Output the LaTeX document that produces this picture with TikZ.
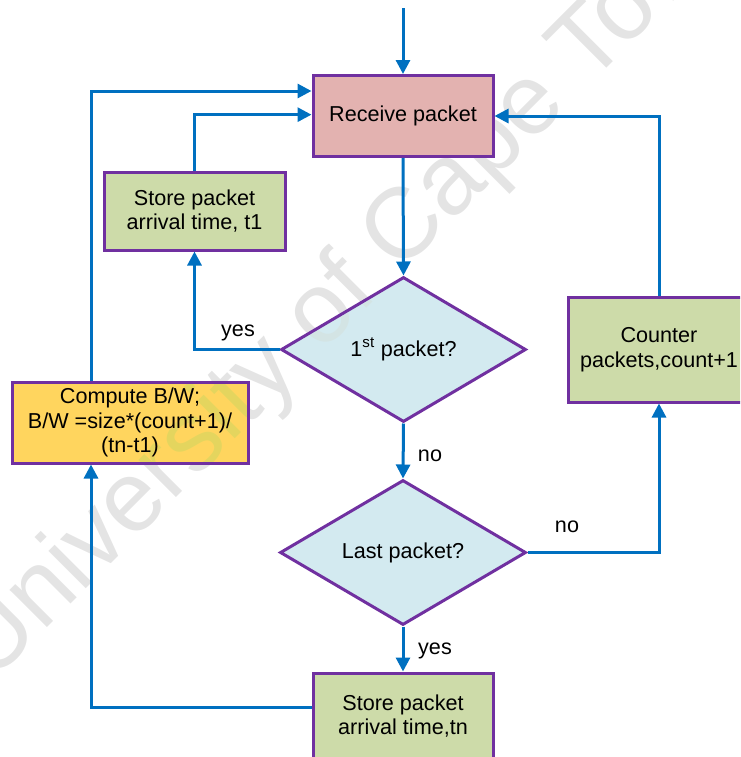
\documentclass[tikz,border=0pt]{standalone}
\usepackage{fontspec}
\setmainfont{Liberation Sans}
\usetikzlibrary{arrows.meta,shapes.geometric}
\definecolor{flowblue}{HTML}{0070C0}
\definecolor{boxpurple}{HTML}{7030A0}
\definecolor{pinkfill}{HTML}{E3B2B0}
\definecolor{greenfill}{HTML}{CDDBA9}
\definecolor{cyanfill}{HTML}{D3EAF0}
\definecolor{goldfill}{HTML}{FFD55E}
\definecolor{markgray}{HTML}{E4E4E4}
\begin{document}
\begin{tikzpicture}[x=0.75pt,y=-0.75pt,
  txt/.style={font=\fontsize{16.2}{18.6}\selectfont},
  procbox/.style={txt,draw=boxpurple,line width=2.25pt,align=center,inner sep=0pt},
  decision/.style={txt,diamond,draw=boxpurple,line width=2.25pt,fill=cyanfill,align=center,inner sep=0pt},
  flow/.style={draw=flowblue,line width=2.25pt,-{Triangle[length=10.5pt,width=10.5pt]}},
  lbl/.style={txt,inner sep=0pt}]
\useasboundingbox (0,0) rectangle (740,757);
\begin{scope}
\clip (0,0) rectangle (740,757);

% process boxes
\node[procbox,fill=pinkfill,minimum width=135pt,minimum height=60.75pt] (recv) at (403,116) {Receive packet};
\node[procbox,fill=greenfill,minimum width=135.75pt,minimum height=58.5pt] (st1) at (194.5,211) {Store packet\\arrival time, t1};
\node[procbox,fill=goldfill,minimum width=177pt,minimum height=60.75pt] (cmp) at (130,422.5) {\raisebox{-2pt}{\parbox{170pt}{\centering Compute B/W;\\B/W =size*(count+1)/\\(tn-t1)}}};
\node[procbox,fill=greenfill,minimum width=136.5pt,minimum height=78.75pt] (cnt) at (659,349.5) {Counter\\packets,count+1};
\node[procbox,fill=greenfill,minimum width=135pt,minimum height=64.5pt] (stn) at (403,716) {Store packet\\arrival time,tn};

% decisions
\node[decision,minimum width=183.75pt,minimum height=108.75pt] (d1) at (403.5,349.5) {1\textsuperscript{st} packet?};
\node[decision,minimum width=184.5pt,minimum height=108.75pt] (d2) at (403,552.5) {Last packet?};

% connectors
\coordinate (in) at (403,8);
\coordinate (lx) at (91,0);
\draw[flow] (in) -- (recv.north);
\draw[flow] (recv.south) -- (d1.north);
\draw[flow] (d1.west) -| (st1.south);
\draw[flow] (st1.north) |- ([yshift=1pt]recv.west);
\draw[flow] (cmp.north -| lx) |- ([yshift=18.75pt]recv.west);
\draw[flow] (d1.south) -- (d2.north);
\draw[flow] (d2.east) -| (cnt.south);
\draw[flow] (cnt.north) |- (recv.east);
\draw[flow] (d2.south) -- (stn.north);
\draw[flow] ([yshift=6.75pt]stn.west) -| (cmp.south -| lx);

% branch labels
\node[lbl] (yes1) at (238,333) {yes};
\node[lbl] (no1) at (430,456) {no};
\node[lbl] (no2) at (567,527) {no};
\node[lbl] (yes2) at (435,651) {yes};

% watermark, darkening only what is lighter than itself
\node[rotate=45,text=markgray,blend mode=darken,inner sep=0pt,font=\fontsize{75}{75}\selectfont] (wm) at (354,284) {University of Cape Town};
\end{scope}
\end{tikzpicture}
\end{document}
